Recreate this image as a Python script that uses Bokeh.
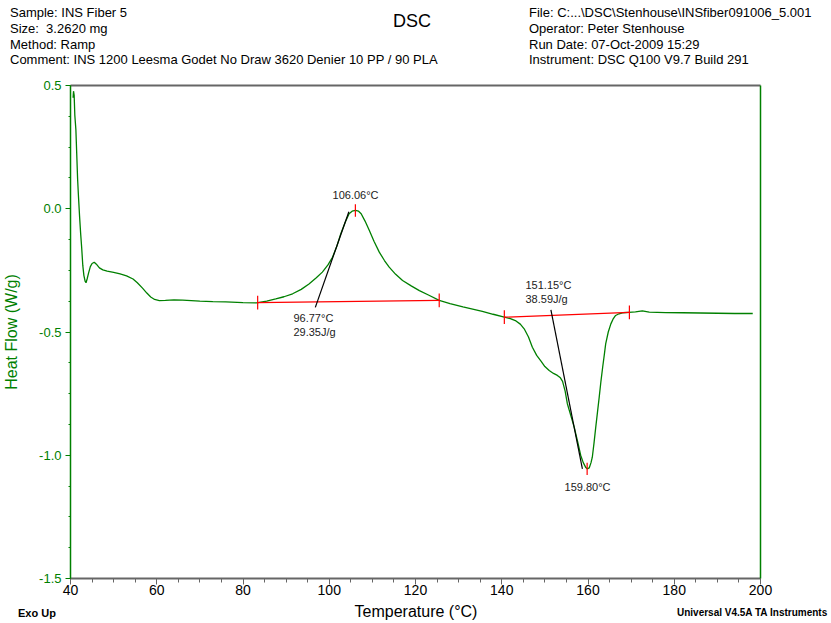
from bokeh.plotting import figure
from bokeh.models import Range1d, LinearAxis, SingleIntervalTicker, Label, Div, NumeralTickFormatter
from bokeh.layouts import column
from bokeh.embed import file_html
from bokeh.resources import INLINE

# ---- data ----
temperature = [40.60, 40.70, 40.85, 41.00, 41.25, 41.45, 41.65, 41.85, 42.10, 42.35,
               42.60, 42.85, 43.10, 43.40, 43.60, 43.85, 44.20, 44.60, 45.00, 45.50,
               46.00, 46.70, 47.50, 48.50, 50.00, 51.50, 53.00, 54.50, 55.50, 56.70,
               57.70, 58.60, 59.50, 60.60, 62.00, 64.00, 66.00, 68.00, 70.00, 73.00,
               76.00, 80.00, 83.10, 85.50, 87.60, 89.50, 91.50, 93.50, 95.30, 97.00,
               98.40, 99.70, 100.75, 101.80, 102.70, 103.70, 104.60, 105.30, 106.06, 106.80,
               107.40, 108.30, 109.30, 110.40, 111.60, 112.80, 113.90, 115.40, 117.00, 119.00,
               120.90, 123.00, 125.50, 128.00, 131.00, 135.50, 138.00, 140.60, 142.00, 143.30,
               144.30, 145.20, 146.20, 147.10, 148.10, 149.10, 150.00, 151.00, 152.00, 152.90,
               153.60, 154.10, 154.70, 155.20, 156.00, 156.80, 157.60, 158.30, 158.90, 159.50,
               159.80, 160.30, 160.70, 161.00, 161.40, 161.80, 162.20, 162.60, 163.00, 163.40,
               163.80, 164.10, 164.70, 165.30, 165.80, 166.40, 167.20, 168.00, 169.50, 171.00,
               172.60, 174.20, 178.00, 182.00, 186.00, 190.00, 194.00, 198.20]
heat_flow = [0.450, 0.477, 0.460, 0.380, 0.320, 0.220, 0.120, 0.050, -0.030, -0.100,
             -0.160, -0.230, -0.270, -0.295, -0.300, -0.285, -0.260, -0.235, -0.222, -0.217,
             -0.225, -0.240, -0.248, -0.253, -0.258, -0.264, -0.272, -0.285, -0.300, -0.322,
             -0.342, -0.358, -0.368, -0.373, -0.372, -0.370, -0.371, -0.373, -0.375, -0.377,
             -0.378, -0.381, -0.382, -0.375, -0.366, -0.357, -0.345, -0.327, -0.305, -0.280,
             -0.257, -0.228, -0.197, -0.150, -0.100, -0.055, -0.020, -0.010, -0.007, -0.010,
             -0.020, -0.050, -0.088, -0.133, -0.176, -0.210, -0.237, -0.266, -0.291, -0.313,
             -0.332, -0.350, -0.372, -0.385, -0.398, -0.416, -0.428, -0.440, -0.446, -0.455,
             -0.468, -0.487, -0.520, -0.562, -0.595, -0.618, -0.640, -0.656, -0.668, -0.676,
             -0.686, -0.700, -0.740, -0.790, -0.838, -0.886, -0.945, -1.000, -1.030, -1.050,
             -1.055, -1.051, -1.030, -1.008, -0.950, -0.886, -0.825, -0.764, -0.700, -0.643,
             -0.590, -0.548, -0.500, -0.467, -0.448, -0.433, -0.426, -0.422, -0.420, -0.418,
             -0.414, -0.419, -0.421, -0.422, -0.423, -0.424, -0.425, -0.425]

baseline1_t = [83.4, 125.5]
baseline1_hf = [-0.381, -0.372]
baseline2_t = [140.6, 169.6]
baseline2_hf = [-0.440, -0.420]

tangent1_t = [96.77, 104.55]
tangent1_hf = [-0.400, -0.012]
tangent2_t = [151.4, 158.7]
tangent2_hf = [-0.410, -1.055]

limit_t = [83.4, 125.5, 140.6, 169.6]
limit_hf = [-0.381, -0.372, -0.440, -0.420]
peak_t = [106.06, 159.80]
peak_hf = [-0.007, -1.055]

notes = [("106.06°C", 106.1, 0.054, "center"),
         ("96.77°C", 91.7, -0.445, "left"),
         ("29.35J/g", 91.7, -0.498, "left"),
         ("151.15°C", 145.5, -0.311, "left"),
         ("38.59J/g", 145.5, -0.368, "left"),
         ("159.80°C", 159.9, -1.127, "center")]

header_left = ["Sample: INS Fiber 5", "Size:&nbsp; 3.2620 mg", "Method: Ramp",
               "Comment: INS 1200 Leesma Godet No Draw 3620 Denier 10 PP / 90 PLA"]
header_right = ["File: C:...\\DSC\\Stenhouse\\INSfiber091006_5.001",
                "Operator: Peter Stenhouse", "Run Date: 07-Oct-2009 15:29",
                "Instrument: DSC Q100 V9.7 Build 291"]
chart_title = "DSC"
x_title = "Temperature (°C)"
y_title = "Heat Flow (W/g)"
footer_left = "Exo Up"
footer_right = "Universal V4.5A TA Instruments"

# ---- layout constants ----
W = 815
HEAD_H = 70
FIG_TOP, FIG_BOTTOM = 15, 24
FRAME_H = 493
FIG_H = FIG_TOP + FRAME_H + FIG_BOTTOM
FOOT_H = 607 - HEAD_H - FIG_H
FONT = "Liberation Sans"
GREEN = "#008000"
GRAY = "#666666"


def span(txt, x, yc, size, weight="normal", align="left"):
    top = yc - 0.49 * size
    if align == "center":
        pos = f"left:{x - 150}px;width:300px;text-align:center;"
    else:
        pos = f"left:{x}px;"
    return (f'<div style="position:absolute;{pos}top:{top:.1f}px;font-size:{size}px;'
            f'line-height:{size}px;font-weight:{weight};white-space:nowrap;">{txt}</div>')


row_y = [12, 28, 44, 59.5]
head_html = "".join(span(t, 10, y, 13) for t, y in zip(header_left, row_y))
head_html += "".join(span(t, 529, y, 13) for t, y in zip(header_right, row_y))
head_html += span(chart_title, 412, 21, 18, align="center")
header = Div(text=(f'<div style="position:relative;width:{W}px;height:{HEAD_H}px;'
                   f'font-family:\'{FONT}\';color:#000;">{head_html}</div>'),
             width=W, height=HEAD_H, margin=(0, 0, 0, 0))

foot_top = HEAD_H + FIG_H
foot_html = span(footer_left, 18, 606 - foot_top, 11, weight="bold")
foot_html += span(x_title, 416, 605 - foot_top, 16, align="center")
foot_html += span(footer_right, 677, 606 - foot_top, 10, weight="bold")
footer = Div(text=(f'<div style="position:relative;width:{W}px;height:{FOOT_H}px;overflow:visible;'
                   f'font-family:\'{FONT}\';color:#000;">{foot_html}</div>'),
             width=W, height=FOOT_H, margin=(0, 0, 0, 0), styles={"overflow": "visible"})

# ---- figure ----
p = figure(width=W, height=FIG_H, x_range=Range1d(40, 200), y_range=Range1d(-1.5, 0.5),
           output_backend="svg", toolbar_location=None,
           min_border_left=68, min_border_right=W - 760, min_border_top=FIG_TOP,
           min_border_bottom=FIG_BOTTOM)
p.outline_line_color = None
p.xgrid.visible = False
p.ygrid.visible = False

xa = p.xaxis[0]
xa.ticker = SingleIntervalTicker(interval=20, num_minor_ticks=4)
xa.axis_line_color = GRAY
xa.axis_line_width = 2
xa.major_tick_line_color = GRAY
xa.minor_tick_line_color = GRAY
xa.major_tick_in = 0
xa.major_tick_out = 6
xa.minor_tick_in = 0
xa.minor_tick_out = 4
xa.major_label_standoff = 0
xa.major_label_text_font = FONT
xa.major_label_text_font_size = "14px"
xa.major_label_text_color = "black"

ya = p.yaxis[0]
ya.ticker = SingleIntervalTicker(interval=0.5, num_minor_ticks=4)
ya.formatter = NumeralTickFormatter(format="0.0")
ya.axis_line_color = GREEN
ya.axis_line_width = 1.5
ya.major_tick_line_color = GREEN
ya.minor_tick_line_color = GREEN
ya.major_tick_in = 0
ya.major_tick_out = 5
ya.minor_tick_in = 0
ya.minor_tick_out = 2
ya.major_label_standoff = 4
ya.major_label_text_font = FONT
ya.major_label_text_font_size = "13px"
ya.major_label_text_color = GREEN
ya.axis_label = y_title
ya.axis_label_text_font = FONT
ya.axis_label_text_font_style = "normal"
ya.axis_label_text_font_size = "16px"
ya.axis_label_text_color = GREEN
ya.axis_label_standoff = 16

top = LinearAxis(major_tick_line_color=None, minor_tick_line_color=None,
                 major_label_text_color=None, axis_line_color=GRAY, axis_line_width=2)
p.add_layout(top, "above")
right = LinearAxis(major_tick_line_color=None, minor_tick_line_color=None,
                   major_label_text_color=None, axis_line_color=GREEN, axis_line_width=1.5)
p.add_layout(right, "right")

p.line(temperature, heat_flow, line_color=GREEN, line_width=1.3)
p.line(baseline1_t, baseline1_hf, line_color="red", line_width=1.2)
p.line(baseline2_t, baseline2_hf, line_color="red", line_width=1.2)
p.line(tangent1_t, tangent1_hf, line_color="black", line_width=1.2)
p.line(tangent2_t, tangent2_hf, line_color="black", line_width=1.2)

lim_half = 0.028
p.segment(x0=limit_t, y0=[v - lim_half for v in limit_hf], x1=limit_t,
          y1=[v + lim_half for v in limit_hf], line_color="red", line_width=1.2)
pk_half = 0.025
p.segment(x0=peak_t, y0=[v - pk_half for v in peak_hf], x1=peak_t,
          y1=[v + pk_half for v in peak_hf], line_color="red", line_width=1.2)

for txt, tx, ty, al in notes:
    p.add_layout(Label(x=tx, y=ty, text=txt, text_align=al, text_baseline="middle",
                       text_font=FONT, text_font_size="11px", text_color="#222222"))

layout = column(header, p, footer, spacing=0)
open("out.html", "w").write(file_html(layout, INLINE))
